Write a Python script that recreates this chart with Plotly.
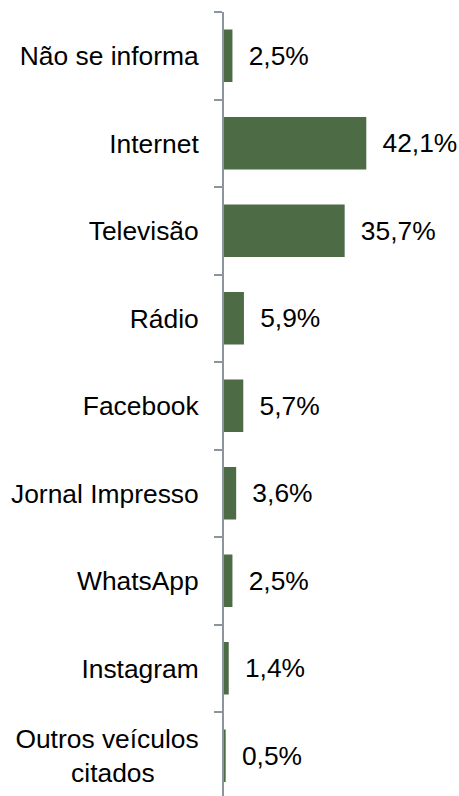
import plotly.graph_objects as go

categories = ["Não se informa", "Internet", "Televisão", "Rádio", "Facebook",
              "Jornal Impresso", "WhatsApp", "Instagram", "Outros veículos"]
tick_labels = ["Não se informa", "Internet", "Televisão", "Rádio", "Facebook",
               "Jornal Impresso", "WhatsApp", "Instagram",
               "Outros veículos<br>citados\u00a0\u00a0\u00a0\u00a0\u00a0\u00a0"]
values = [2.5, 42.1, 35.7, 5.9, 5.7, 3.6, 2.5, 1.4, 0.5]

FONT = "Liberation Sans, Arial"

fig = go.Figure()
fig.add_trace(go.Bar(
    y=categories, x=values, orientation="h",
    width=0.6,
    marker=dict(color="#4d6b45", line=dict(width=0)),
    texttemplate="\u2002%{x:.1f}%",
    textposition="outside",
    cliponaxis=False,
    textfont=dict(family=FONT, size=26.4, color="#000000"),
    hoverinfo="skip",
))

fig.update_layout(
    width=459, height=796,
    margin=dict(l=224, r=66, t=12, b=0),
    paper_bgcolor="white", plot_bgcolor="white",
    separators=",.",
    showlegend=False,
    font=dict(family=FONT, size=26.4, color="#000000"),
    xaxis=dict(range=[0, 50], visible=False, fixedrange=True),
    yaxis=dict(
        type="category",
        categoryorder="array", categoryarray=categories,
        tickvals=categories, ticktext=tick_labels,
        range=[8.46, -0.5],
        showline=True, linecolor="#8c949d", linewidth=2,
        ticks="outside", tickson="boundaries", ticklen=8, tickwidth=2,
        tickcolor="#8c949d",
        showgrid=False, zeroline=False, fixedrange=True,
        ticklabelstandoff=18,
        tickfont=dict(family=FONT, size=26.4, color="#000000"),
    ),
)

fig.write_html("out.html",
               config={"displayModeBar": False, "staticPlot": True},
               post_script="document.body.style.margin='0';document.body.style.overflow='hidden';")
